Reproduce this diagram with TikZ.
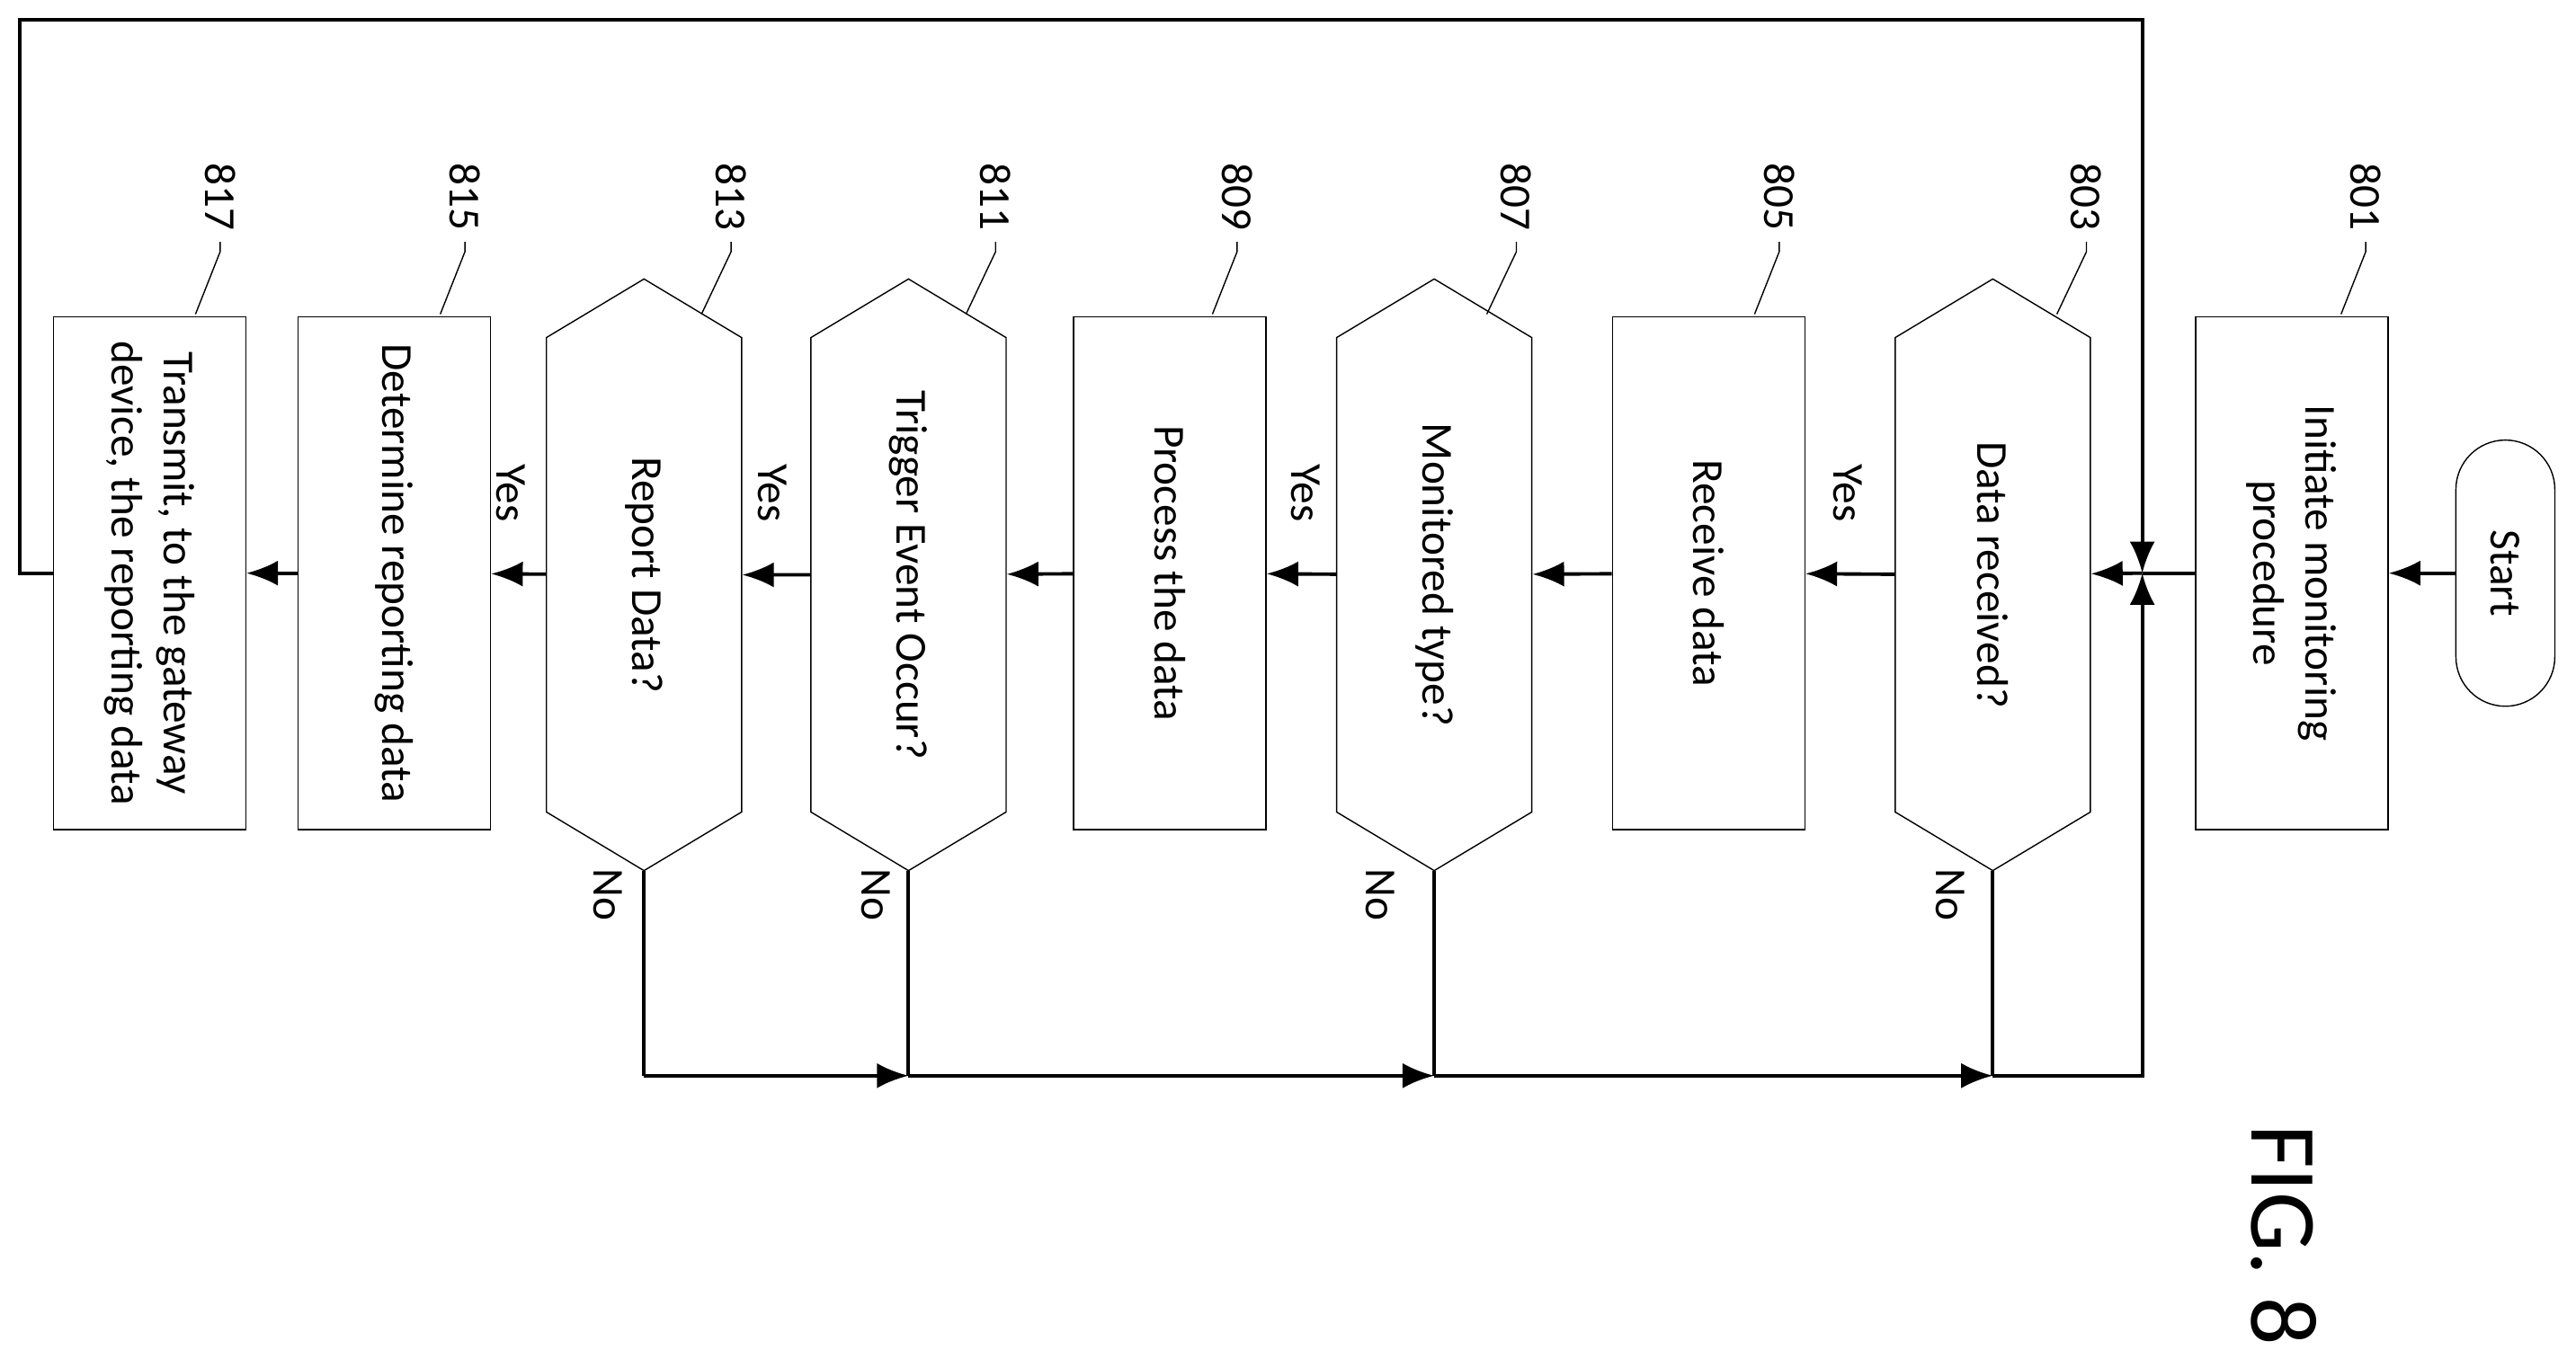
\documentclass[tikz,border=0pt]{standalone}
\usepackage{fontspec}
\setmainfont{Carlito}
\usetikzlibrary{arrows.meta,shapes.symbols}

\begin{document}
\begin{tikzpicture}[x=0.01827cm, y=-0.01827cm, >={Latex[length=10pt,width=8pt]},
    every node/.style={font=\fontsize{14}{16.5}\selectfont},
    box/.style={draw, thin, rotate=-90, align=center, minimum width=5.7cm, minimum height=2.14cm, inner sep=0pt},
    hexa/.style={draw, thin, rotate=-90, align=center, shape=signal, signal to=east and west, signal pointer angle=118, minimum width=6.58cm, minimum height=2.17cm, inner sep=0pt},
    wire/.style={line width=1.1pt},
    flow/.style={wire, ->},
    lbl/.style={rotate=-90}]
    \useasboundingbox (0,0) rectangle (1568,827);
    % \draw[very thin,color=gray] (0,0) grid[step=100] (1568,827);
    \node[draw, thin, rotate=-90, rounded corners=0.55cm, minimum width=2.96cm, minimum height=1.1cm] (start) at (1525,349) {Start};
    \node[box] (n801) at (1395,349) {Initiate monitoring\\procedure};
    \node[hexa] (n803) at (1213,350) {Data received?};
    \node[box] (n805) at (1040,349) {Receive data};
    \node[hexa] (n807) at (873,350) {Monitored type?};
    \node[box] (n809) at (712,349) {Process the data};
    \node[hexa] (n811) at (553,350) {Trigger Event Occur?};
    \node[hexa] (n813) at (392,350) {Report Data?};
    \node[box] (n815) at (240,349) {Determine reporting data};
    \node[box] (n817) at (91,349) {Transmit, to the gateway\\device, the reporting data};
    \coordinate (join) at (1304,349);
    \coordinate (top) at (1304,12);
    \coordinate (bot) at (1304,655);

    \draw[flow] (start) -- (n801);
    \draw[wire] (n801) -- (join);
    \draw[flow] (join) -- (n803);
    \draw[flow] (n803) -- (n805);
    \draw[flow] (n805) -- (n807);
    \draw[flow] (n807) -- (n809);
    \draw[flow] (n809) -- (n811);
    \draw[flow] (n811) -- (n813);
    \draw[flow] (n813) -- (n815);
    \draw[flow] (n815) -- (n817);
    \draw[flow] (n817.south) -| (12,12) -- (top) -- (join);
    \draw[wire] (n813.east) -- (n813.east|-bot);
    \draw[flow] (n813.east|-bot) -- (n811.east|-bot);
    \draw[wire] (n811.east) -- (n811.east|-bot);
    \draw[flow] (n811.east|-bot) -- (n807.east|-bot);
    \draw[wire] (n807.east) -- (n807.east|-bot);
    \draw[flow] (n807.east|-bot) -- (n803.east|-bot);
    \draw[wire] (n803.east) -- (n803.east|-bot);
    \draw[flow] (n803.east|-bot) -- (bot) -- (join);
    \foreach \x in {1125, 795, 470, 311}
        \node[lbl] at (\x,300) {Yes};
    \foreach \x in {1187, 840, 533, 370}
        \node[lbl] at (\x,545) {No};

    % reference numerals
    \foreach \n/\x/\d in {801/1440/15, 803/1270/18, 805/1083/15, 807/923/18, 809/753/15, 811/606/18, 813/445/18, 815/283/15, 817/134/15}{
        \node[lbl] (l\n) at (\x,120) {\n};
        \draw[thin] (l\n.east) -- ++(0,6) -- ++(-\d,38);
    }
    \node[lbl, font=\fontsize{30}{32}\selectfont] (fig) at (1390,752) {FIG. 8};
\end{tikzpicture}
\end{document}
